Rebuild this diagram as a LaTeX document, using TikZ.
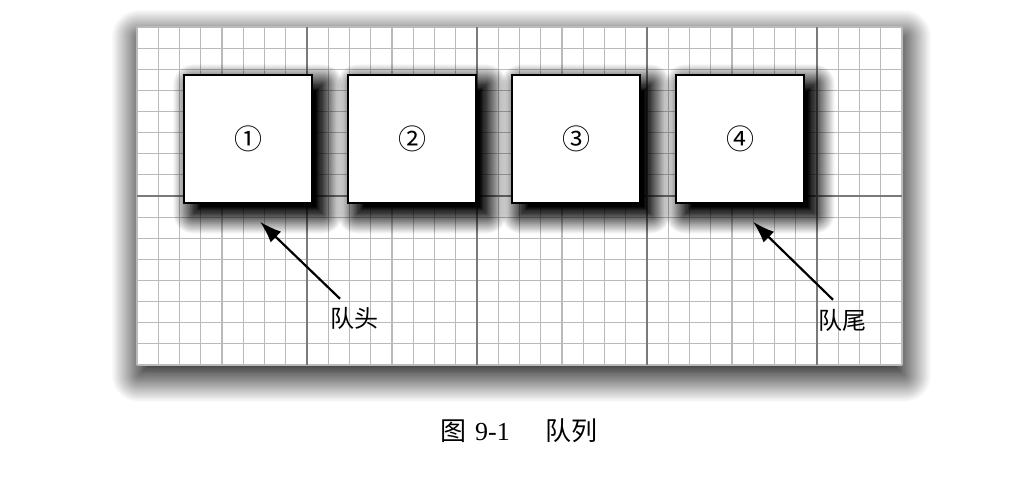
\documentclass[tikz,border=0pt]{standalone}
\usepackage{fontspec}
\setmainfont{Liberation Serif}
\newfontfamily\cjk{Noto Sans CJK SC}
\usetikzlibrary{arrows.meta}
\pgfdeclarelayer{pshadow}
\pgfdeclarelayer{bg}
\pgfdeclarelayer{sh}
\pgfsetlayers{pshadow,bg,sh,main}
\tikzset{
  panelbox/.style={fill=white, draw=none, minimum width=765pt, minimum height=338pt, inner sep=0pt},
  minorline/.style={draw=black!27, line width=1.1pt},
  majorline/.style={draw=black!52, line width=1.2pt},
  qbox/.style={draw=black, line width=1.4pt, fill=white, minimum size=128pt, inner sep=0pt,
    font=\cjk\fontsize{28}{30}\selectfont},
  lab/.style={font=\cjk\fontsize{24}{26}\selectfont, inner sep=1pt},
  arr/.style={line width=2.2pt, -{Latex[length=22pt,width=15pt]}},
}
% #1 node, #2 dx, #3 dy, #4 min spread, #5 max spread, #6 steps, #7 max darkness
\newcommand\mysoftshadow[7]{%
  \foreach \k in {1,...,#6} {
    \pgfmathsetmacro\ee{#5-(#5-(#4))*\k/#6}
    \pgfmathsetmacro\rr{max(\ee,0)}
    \pgfmathsetmacro\op{(#7/#6)/(1-#7*(\k-1)/#6)}
    \fill[black, opacity=\op, rounded corners=\rr pt]
      ([shift={(#2-\ee,#3-\ee)}]#1.north west) rectangle ([shift={(#2+\ee,#3+\ee)}]#1.south east);
  }%
}
\begin{document}
\begin{tikzpicture}[x=1pt,y=-1pt]
\useasboundingbox (0,0) rectangle (1010,482);
\begin{pgfonlayer}{pshadow}
\fill[white] (0,0) rectangle (1010,482);
\end{pgfonlayer}
\begin{pgfonlayer}{bg}
\node[panelbox] (panel) at (519.5,196) {};
\foreach \i in {0,...,36} {
  \draw[minorline] (137+\i*21.25,27) -- (137+\i*21.25,365);
}
\foreach \j in {0,...,16} {
  \draw[minorline] (137,27+\j*21.125) -- (902,27+\j*21.125);
}
\foreach \i in {8,16,24,32} {
  \draw[majorline] (137+\i*21.25,27) -- (137+\i*21.25,365);
}
\draw[majorline] (137,196) -- (902,196);
\end{pgfonlayer}
\begin{pgfonlayer}{pshadow}
\mysoftshadow{panel}{2}{10}{-12}{28}{32}{0.75}
\end{pgfonlayer}
% boxes
\node[qbox] (b1) at (248,139) {①};
\node[qbox] (b2) at (412,139) {②};
\node[qbox] (b3) at (576,139) {③};
\node[qbox] (b4) at (740,139) {④};
\begin{pgfonlayer}{sh}
\mysoftshadow{b1}{10}{10}{-7}{21}{24}{1}
\mysoftshadow{b2}{10}{10}{-7}{21}{24}{1}
\mysoftshadow{b3}{10}{10}{-7}{21}{24}{1}
\mysoftshadow{b4}{10}{10}{-7}{21}{24}{1}
\end{pgfonlayer}
% labels
\node[lab] (h) at (354,318) {队头};
\node[lab] (t) at (842,320) {队尾};
\coordinate (hs) at ([xshift=-14pt,yshift=7pt]h.north);
\coordinate (he) at ([xshift=12pt,yshift=-18pt]b1.south);
\coordinate (ts) at ([xshift=-9pt,yshift=8pt]t.north);
\coordinate (te) at ([xshift=13pt,yshift=-18pt]b4.south);
\draw[arr] (hs) -- (he);
\draw[arr] (ts) -- (te);
% caption
\node[font=\fontsize{26}{28}\selectfont, inner sep=0pt] (cap) at (519,431) {{\cjk 图}\hspace{9pt}9-1\hspace{36pt}{\cjk 队列}};
\end{tikzpicture}
\end{document}
